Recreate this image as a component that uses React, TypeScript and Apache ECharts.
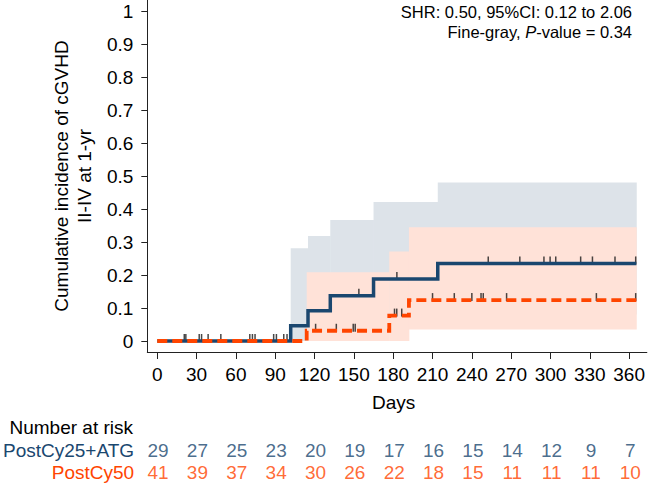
import React, { useEffect, useRef } from "react";
import * as echarts from "echarts";

const FONT = "'Liberation Sans', Arial, Helvetica, sans-serif";
const BLUE = "#1a476f";
const ORANGE = "#ff4500";
const BLUE_BAND = "#dde3e9";
const ORANGE_BAND = "#ffe2d8";
const TICK_COLOR = "#1a1a1a";

// axis ticks
const xTicks = [0, 30, 60, 90, 120, 150, 180, 210, 240, 270, 300, 330, 360];
const yTicks = [0, 0.1, 0.2, 0.3, 0.4, 0.5, 0.6, 0.7, 0.8, 0.9, 1];

// PostCy25+ATG cumulative incidence (step after each time)
const blueTimes = [0, 101.8, 115, 132, 165, 214, 365.5];
const blueCif = [0, 0.046, 0.092, 0.137, 0.188, 0.235, 0.235];
const blueLower = [0, 0, 0.008, 0.025, 0.05, 0.08, 0.08];
const blueUpper = [0, 0.281, 0.318, 0.367, 0.421, 0.48, 0.48];
const blueCensorDays = [21.8, 33.8, 48.5, 72.6, 90.9, 99, 153.8, 182.8, 252.5, 276.6, 295, 299.7, 304, 323, 332, 349.2, 365];

// PostCy50
const orangeTimes = [0, 114, 177, 192, 365.5];
const orangeCif = [0, 0.031, 0.077, 0.124, 0.124];
const orangeLower = [0, 0, 0, 0.035, 0.035];
const orangeUpper = [0, 0.208, 0.271, 0.345, 0.345];
const orangeCensorDays = [20.6, 32, 38.8, 70.6, 74.6, 88.8, 96.5, 120.8, 136.6, 149.5, 151, 181, 182.7, 186.5, 210, 226.6, 240, 247, 248.7, 266.5, 335, 365];

// number at risk
const groups = ["PostCy25+ATG", "PostCy50"];
const riskDays = xTicks;
const blueRisk = [29, 27, 25, 23, 20, 19, 17, 16, 15, 14, 12, 9, 7];
const orangeRisk = [41, 39, 37, 34, 30, 26, 22, 18, 15, 11, 11, 11, 10];

function cifAt(times: number[], cif: number[], t: number) {
  let v = cif[0];
  for (let i = 0; i < times.length; i++) if (times[i] <= t) v = cif[i];
  return v;
}

function bandData(times: number[], lower: number[], upper: number[]) {
  const out: number[][] = [];
  for (let i = 0; i < times.length - 1; i++) {
    if (upper[i] > lower[i]) out.push([times[i], times[i + 1], lower[i], upper[i]]);
  }
  return out;
}

function bandSeries(data: number[][], color: string) {
  return {
    type: "custom",
    xAxisIndex: 0,
    yAxisIndex: 0,
    silent: true,
    encode: { x: [0, 1], y: [2, 3] },
    data,
    renderItem: (params: any, api: any) => {
      const p0 = api.coord([api.value(0), api.value(3)]);
      const p1 = api.coord([api.value(1), api.value(2)]);
      return {
        type: "rect",
        shape: { x: p0[0], y: p0[1], width: p1[0] - p0[0] + 0.4, height: p1[1] - p0[1] },
        style: { fill: color },
      };
    },
  };
}

const X_MIN = -7.6;
const X_MAX = 373.5;

export default function App() {
  const ref = useRef<HTMLDivElement>(null);
  useEffect(() => {
    document.body.style.margin = "0";
    if (!ref.current) return;
    const chart = echarts.init(ref.current, undefined, { renderer: "svg" });
    const option: any = {
      animation: false,
      textStyle: { fontFamily: FONT },
      grid: [
        { left: 147.3, top: 0, right: 0, height: 352 },
        { left: 147.3, top: 439, right: 0, height: 44 },
      ],
      xAxis: [
        {
          type: "value",
          gridIndex: 0,
          min: X_MIN,
          max: X_MAX,
          axisLine: { show: true, onZero: false, lineStyle: { color: "#222", width: 1 } },
          axisTick: { show: true, customValues: xTicks, length: 7, lineStyle: { color: "#222", width: 1 } },
          axisLabel: { customValues: xTicks, fontSize: 19, color: "#000", margin: 13, fontFamily: FONT },
          splitLine: { show: false },
          name: "Days",
          nameLocation: "middle",
          nameGap: 41,
          nameTextStyle: { fontSize: 19, color: "#000", fontFamily: FONT, padding: [0, 7, 0, 0] },
        },
        { type: "value", gridIndex: 1, min: X_MIN, max: X_MAX, show: false },
      ],
      yAxis: [
        {
          type: "value",
          gridIndex: 0,
          min: -1 / 30,
          max: 31 / 30,
          axisLine: { show: true, onZero: false, lineStyle: { color: "#222", width: 1 } },
          axisTick: { show: true, customValues: yTicks, length: 6, lineStyle: { color: "#222", width: 1 } },
          axisLabel: {
            customValues: yTicks,
            fontSize: 19,
            color: "#000",
            margin: 14,
            fontFamily: FONT,
            formatter: (v: number) => String(Math.round(v * 10) / 10),
          },
          splitLine: { show: false },
          name: "Cumulative incidence of cGVHD\nII-IV at 1-yr",
          nameLocation: "middle",
          nameRotate: 90,
          nameGap: 44,
          nameTextStyle: { fontSize: 19, lineHeight: 23, color: "#000", fontFamily: FONT, align: "center" },
        },
        {
          type: "category",
          gridIndex: 1,
          data: groups,
          inverse: true,
          axisLine: { show: false },
          axisTick: { show: false },
          splitLine: { show: false },
          axisLabel: {
            interval: 0,
            fontSize: 19,
            margin: 14,
            fontFamily: FONT,
            color: (v: string) => (v === groups[0] ? BLUE : ORANGE),
          },
        },
      ],
      series: [
        bandSeries(bandData(blueTimes, blueLower, blueUpper), BLUE_BAND),
        bandSeries(bandData(orangeTimes, orangeLower, orangeUpper), ORANGE_BAND),
        {
          type: "line",
          xAxisIndex: 0,
          yAxisIndex: 0,
          step: "end",
          showSymbol: false,
          silent: true,
          data: blueTimes.map((t, i) => [t, blueCif[i]]),
          lineStyle: { color: BLUE, width: 3.5, cap: "butt", join: "miter" },
        },
        {
          type: "line",
          xAxisIndex: 0,
          yAxisIndex: 0,
          step: "end",
          showSymbol: false,
          silent: true,
          data: orangeTimes.map((t, i) => [t, orangeCif[i]]),
          lineStyle: { color: ORANGE, width: 3.8, type: [10, 5], cap: "butt", join: "miter" },
        },
        {
          type: "scatter",
          xAxisIndex: 0,
          yAxisIndex: 0,
          silent: true,
          symbol: "rect",
          symbolSize: [1.5, 8],
          symbolOffset: [0, -3],
          itemStyle: { color: TICK_COLOR },
          data: blueCensorDays.map((d) => [d, cifAt(blueTimes, blueCif, d)]),
        },
        {
          type: "scatter",
          xAxisIndex: 0,
          yAxisIndex: 0,
          silent: true,
          symbol: "rect",
          symbolSize: [1.5, 8],
          symbolOffset: [0, -3],
          itemStyle: { color: TICK_COLOR },
          data: orangeCensorDays.map((d) => [d, cifAt(orangeTimes, orangeCif, d)]),
        },
        {
          type: "scatter",
          xAxisIndex: 1,
          yAxisIndex: 1,
          silent: true,
          symbolSize: 1,
          itemStyle: { color: "rgba(0,0,0,0)" },
          label: {
            show: true,
            position: "inside",
            fontSize: 19,
            fontFamily: FONT,
            color: BLUE,
            formatter: (p: any) => String(p.value[2]),
          },
          data: riskDays.map((d, i) => [d, 0, blueRisk[i]]),
        },
        {
          type: "scatter",
          xAxisIndex: 1,
          yAxisIndex: 1,
          silent: true,
          symbolSize: 1,
          itemStyle: { color: "rgba(0,0,0,0)" },
          label: {
            show: true,
            position: "inside",
            fontSize: 19,
            fontFamily: FONT,
            color: ORANGE,
            formatter: (p: any) => String(p.value[2]),
          },
          data: riskDays.map((d, i) => [d, 1, orangeRisk[i]]),
        },
      ],
      graphic: [
        {
          type: "text",
          x: 632,
          y: 12,
          style: {
            text: "SHR: 0.50, 95%CI: 0.12 to 2.06",
            fontSize: 16.5,
            fontFamily: FONT,
            fill: "#000",
            align: "right",
            verticalAlign: "middle",
          },
        },
        {
          type: "text",
          x: 632,
          y: 32,
          style: {
            text: "{n|Fine-gray, }{i|P}{n|-value = 0.34}",
            fontSize: 16.5,
            fontFamily: FONT,
            fill: "#000",
            align: "right",
            verticalAlign: "middle",
            rich: {
              n: { fontSize: 16.5, fontFamily: FONT, fill: "#000" },
              i: { fontSize: 16.5, fontFamily: FONT, fill: "#000", fontStyle: "italic" },
            },
          },
        },
        {
          type: "text",
          x: 133,
          y: 427,
          style: {
            text: "Number at risk",
            fontSize: 19,
            fontFamily: FONT,
            fill: "#000",
            align: "right",
            verticalAlign: "middle",
          },
        },
      ],
    };
    chart.setOption(option);
    return () => chart.dispose();
  }, []);
  return <div ref={ref} style={{ width: 648, height: 484 }} />;
}
